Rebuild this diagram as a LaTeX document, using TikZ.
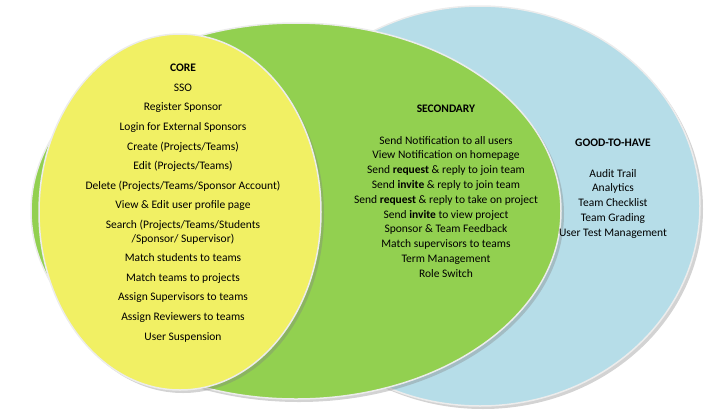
\documentclass[tikz,border=0pt]{standalone}
\usepackage{fontspec}
\setmainfont{Carlito}
\usetikzlibrary{shadows,shapes.geometric}
\definecolor{ghblue}{RGB}{182,221,232}
\definecolor{secgreen}{RGB}{146,208,80}
\definecolor{coreyellow}{RGB}{241,240,100}
\begin{document}
\begin{tikzpicture}[x=1pt,y=-1pt,
  blob/.style={draw=white!85!gray,line width=1.5pt,inner sep=0,outer sep=0,drop shadow={shadow xshift=3pt,shadow yshift=-3pt,opacity=0.35}},
  txt/.style={align=center,font=\fontsize{11.5}{14.8}\selectfont,inner sep=0}]
\useasboundingbox (0,0) rectangle (704,413);
\node[blob,ellipse,fill=ghblue,minimum width=440pt,minimum height=400pt] (gh) at (480,206) {};
\node[blob,ellipse,fill=secgreen,minimum width=530pt,minimum height=376pt] (sec) at (296,211) {};
\node[blob,ellipse,fill=coreyellow,minimum width=282pt,minimum height=356pt] (core) at (180,212) {};
\node[txt,font=\fontsize{11.5}{19.6}\selectfont,anchor=north] (coretxt) at (183,64) {\textbf{CORE}\\SSO\\Register Sponsor\\Login for External Sponsors\\Create (Projects/Teams)\\Edit (Projects/Teams)\\Delete (Projects/Teams/Sponsor Account)\\View \& Edit user profile page\\Search (Projects/Teams/Students\\[-6pt]/Sponsor/ Supervisor)\\Match students to teams\\Match teams to projects\\Assign Supervisors to teams\\Assign Reviewers to teams\\User Suspension};
\node[txt,anchor=north] (sectitle) at (446,105) {\textbf{SECONDARY}};
\node[txt,anchor=north] (sectxt) at (446,136) {Send Notification to all users\\View Notification on homepage\\Send \textbf{request} \& reply to join team\\Send \textbf{invite} \& reply to join team\\Send \textbf{request} \& reply to take on project\\Send \textbf{invite} to view project\\Sponsor \& Team Feedback\\Match supervisors to teams\\Term Management\\Role Switch};
\node[txt,anchor=north] (ghtitle) at (613,139) {\textbf{GOOD-TO-HAVE}};
\node[txt,anchor=north] (ghtxt) at (613,169) {Audit Trail\\Analytics\\Team Checklist\\Team Grading\\User Test Management};
\end{tikzpicture}
\end{document}
